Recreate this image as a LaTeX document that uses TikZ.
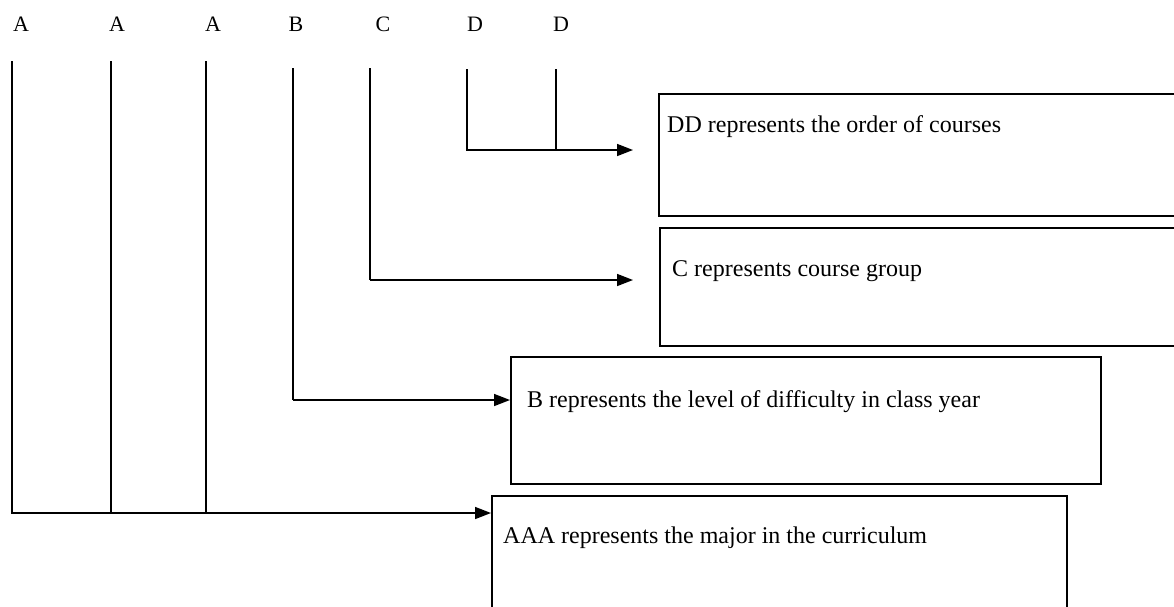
\documentclass[tikz,border=0pt]{standalone}
\usepackage{fontspec}
\setmainfont{Liberation Serif}
\usetikzlibrary{arrows.meta}
\begin{document}
\begin{tikzpicture}[x=1pt,y=-1pt,
  conn/.style={line width=1.6pt},
  arr/.style={line width=1.6pt,-{Triangle[length=16pt,width=12pt]}},
  boxshape/.style={draw,line width=1.6pt,rectangle,inner sep=0pt,anchor=north west},
  letter/.style={font=\fontsize{22}{25}\selectfont,inner sep=0pt},
  label/.style={font=\fontsize{24}{27}\selectfont,inner sep=0pt,anchor=base west}]
\useasboundingbox (0,0) rectangle (1174,606);
\clip (0,0) rectangle (1174,606);
% letters
\node[letter] (lA1) at (21,24) {A};
\node[letter] (lA2) at (117,24) {A};
\node[letter] (lA3) at (213,24) {A};
\node[letter] (lB) at (296,24) {B};
\node[letter] (lC) at (383,24) {C};
\node[letter] (lD1) at (475,24) {D};
\node[letter] (lD2) at (561,24) {D};
% boxes
\node[boxshape,minimum width=540pt,minimum height=122pt] (bDD) at (658,93) {};
\node[boxshape,minimum width=540pt,minimum height=118pt] (bC) at (659,227) {};
\node[boxshape,minimum width=590pt,minimum height=127pt] (bB) at (510,356) {};
\node[boxshape,minimum width=575pt,minimum height=140pt] (bA) at (491,495) {};
% labels
\node[label] (tDD) at (667,132) {DD represents the order of courses};
\node[label] (tC) at (672,276) {C represents course group};
\node[label] (tB) at (527,407) {B represents the level of difficulty in class year};
\node[label] (tA) at (503,543) {AAA represents the major in the curriculum};
% line tops
\coordinate (sA1) at (12,61);
\coordinate (sA2) at (111,61);
\coordinate (sA3) at (206,61);
\coordinate (sB) at (293,68);
\coordinate (sC) at (370,68);
\coordinate (sD1) at (467,69);
\coordinate (sD2) at (556,69);
% junctions and ends
\coordinate (jD1) at (467,150);
\coordinate (jD2) at (556,150);
\coordinate (eD) at (633,150);
\coordinate (jC) at (370,280);
\coordinate (eC) at (633,280);
\coordinate (jB) at (293,400);
\coordinate (jA1) at (12,513);
\coordinate (jA2) at (111,513);
\coordinate (jA3) at (206,513);
% connectors
\draw[conn] (sD1) -- (jD1) -- (jD2);
\draw[conn] (sD2) -- (jD2);
\draw[arr] (jD2) -- (eD);
\draw[conn] (sC) -- (jC);
\draw[arr] (jC) -- (eC);
\draw[conn] (sB) -- (jB);
\draw[arr] (jB) -- (jB -| bB.west);
\draw[conn] (sA1) -- (jA1) -- (jA3);
\draw[conn] (sA2) -- (jA2);
\draw[conn] (sA3) -- (jA3);
\draw[arr] (jA3) -- (jA3 -| bA.west);
\end{tikzpicture}
\end{document}
